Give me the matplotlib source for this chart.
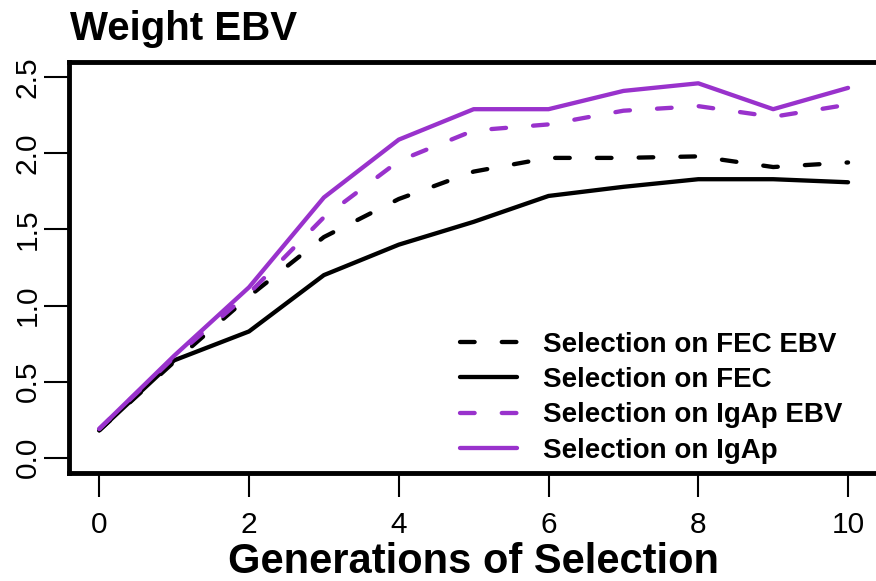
import numpy as np
import matplotlib
matplotlib.use("Agg")
import matplotlib.pyplot as plt

plt.rcParams['font.family'] = ['Liberation Sans', 'DejaVu Sans']

# data
generations = [0, 1, 2, 3, 4, 5, 6, 7, 8, 9, 10]
fec_ebv = [0.18, 0.63, 1.06, 1.45, 1.70, 1.88, 1.97, 1.97, 1.98, 1.91, 1.94]
fec = [0.18, 0.64, 0.83, 1.20, 1.40, 1.55, 1.72, 1.78, 1.83, 1.83, 1.81]
igap_ebv = [0.19, 0.66, 1.08, 1.58, 1.95, 2.15, 2.19, 2.28, 2.31, 2.24, 2.32]
igap = [0.19, 0.67, 1.12, 1.71, 2.09, 2.29, 2.29, 2.41, 2.46, 2.29, 2.43]

labels = ["Selection on FEC EBV", "Selection on FEC",
          "Selection on IgAp EBV", "Selection on IgAp"]
xticks = [0, 2, 4, 6, 8, 10]
yticks = [0.0, 0.5, 1.0, 1.5, 2.0, 2.5]

purple = "darkorchid"
lw = 3.1
dash = (0, (3.4, 6.3))

W, H = 876, 581
fig = plt.figure(figsize=(W / 100, H / 100), dpi=100)
ax = fig.add_axes([69.3 / W, 1 - 473 / H, 808.7 / W, 411 / H])

series = [(fec_ebv, "black", dash), (fec, "black", "-"),
          (igap_ebv, purple, dash), (igap, purple, "-")]
for (vals, col, ls), lab in zip(series, labels):
    ax.plot(generations, vals, color=col, linestyle=ls, lw=lw,
            dash_capstyle="round", solid_capstyle="round",
            solid_joinstyle="round", dash_joinstyle="round", label=lab)

ax.set_xlim(-0.4, 10.4)
ax.set_ylim(-0.1, 2.6)
ax.set_xticks(xticks)
ax.set_xticklabels([str(t) for t in xticks], fontsize=21.5)
ax.set_yticks(yticks)
ax.set_yticklabels(["%.1f" % t for t in yticks], fontsize=21.5,
                   rotation=90, va="center")
ax.tick_params(axis="x", direction="out", length=17.3, width=1.5, pad=10)
ax.tick_params(axis="y", direction="out", length=18, width=1.5, pad=2)
for sp in ax.spines.values():
    sp.set_linewidth(3.5)

leg = ax.legend(loc="upper left", bbox_to_anchor=(460 / W, 1 - 332 / H),
                bbox_transform=fig.transFigure, frameon=False,
                prop={"weight": "bold", "size": 20}, handlelength=2.05,
                handletextpad=0.93, labelspacing=0.33, borderpad=0,
                borderaxespad=0)

fig.text(70 / W, 1 - 40 / H, "Weight EBV", fontsize=29, fontweight="bold",
         ha="left", va="baseline")
fig.text(473 / W, 1 - 573 / H, "Generations of Selection", fontsize=30,
         fontweight="bold", ha="center", va="baseline")

fig.savefig("out.png", dpi=100)
